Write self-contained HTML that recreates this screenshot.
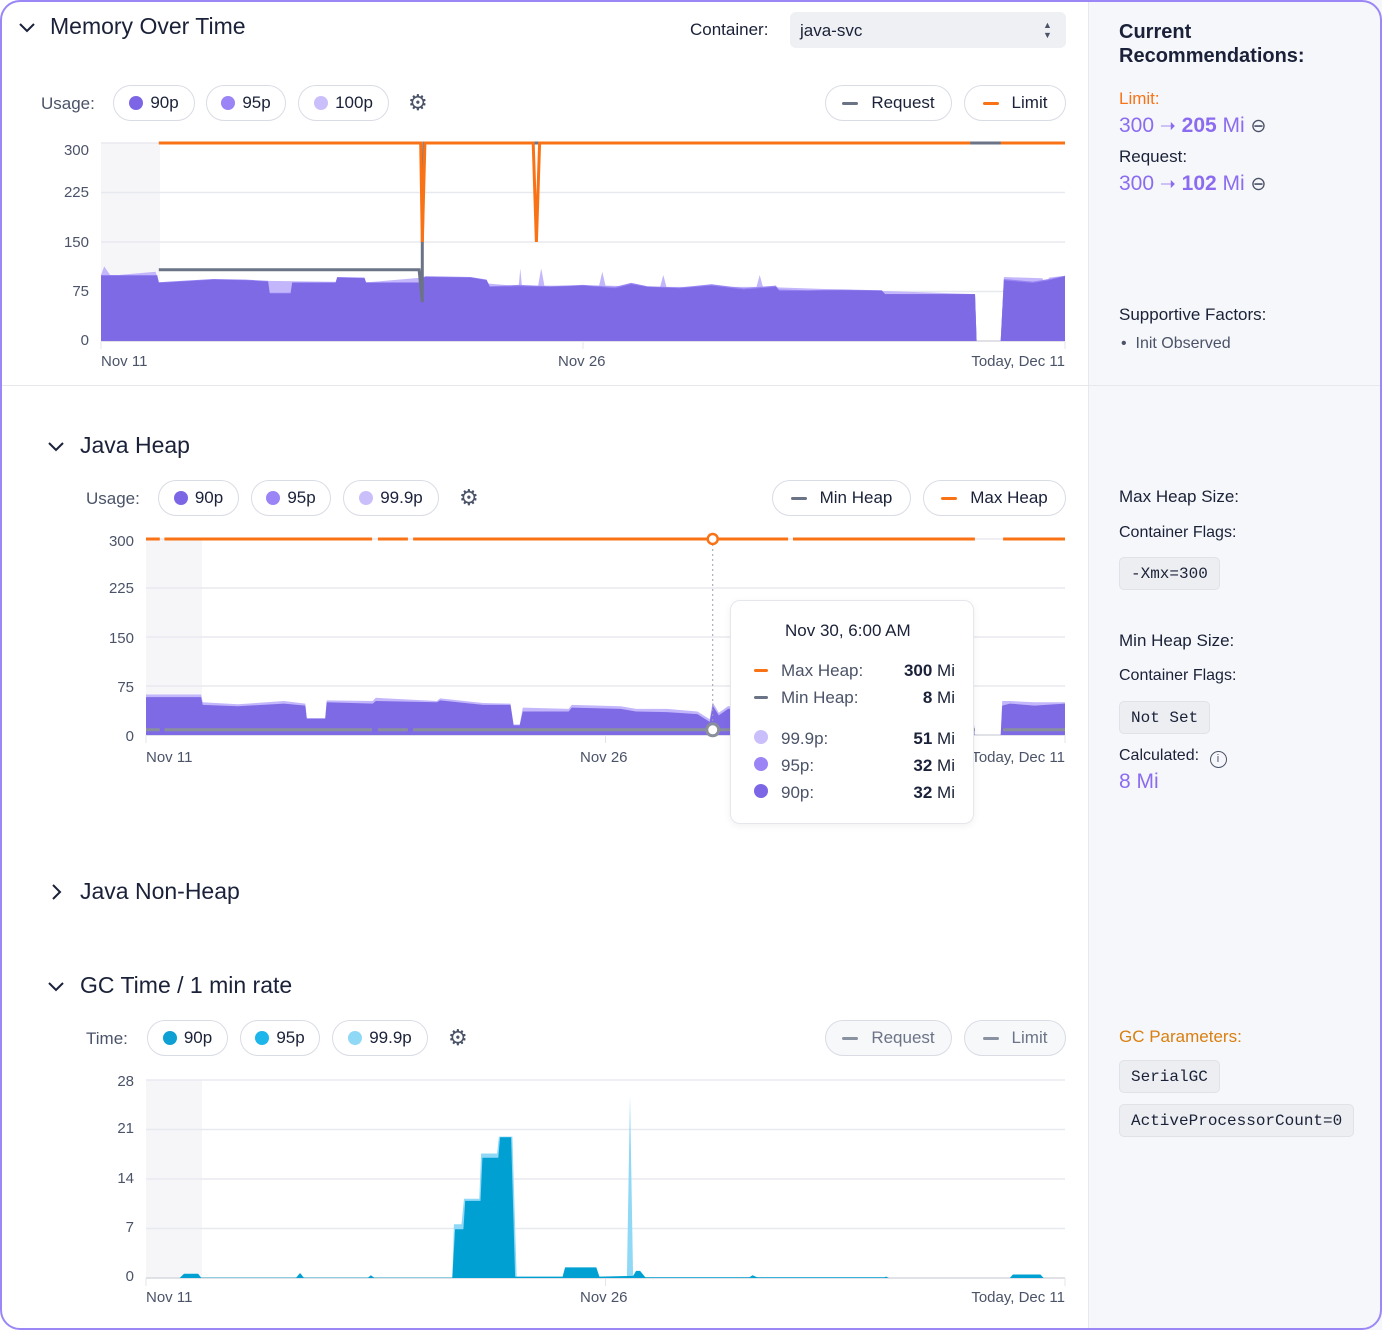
<!DOCTYPE html>
<html><head><meta charset="utf-8">
<style>
*{box-sizing:border-box;margin:0;padding:0}
body{width:1382px;height:1330px;position:relative;background:#fff;font-family:"Liberation Sans",sans-serif;color:#1a2138;overflow:hidden}
.frame{position:absolute;left:0;top:0;width:1382px;height:1330px;border:2px solid #9b87f5;border-radius:20px;pointer-events:none;z-index:5}
.side{position:absolute;left:1088px;top:0;width:294px;height:1330px;background:#f6f7fa;border-left:1px solid #e6e8ee}
.t{position:absolute;white-space:nowrap;line-height:1}
.chip{position:absolute;height:36px;border:1px solid #d9dce4;border-radius:18px;background:#fff;display:flex;align-items:center;justify-content:center;font-size:17px;color:#1a2138;gap:7px}
.dot{width:14px;height:14px;border-radius:50%;display:inline-block}
.dash{width:16px;height:3px;border-radius:2px;display:inline-block;margin-right:6px}
.code{position:absolute;height:33px;background:#eceef1;border:1px solid #dfe2e7;border-radius:5px;font-family:"Liberation Mono",monospace;font-size:16px;display:flex;align-items:center;padding:0 11px;color:#1a2138}
.ylab{position:absolute;font-size:15px;color:#4b5368;text-align:right;width:40px;line-height:1}
.xlab{position:absolute;font-size:15px;color:#4b5368;line-height:1;white-space:nowrap}
.xr{position:absolute;font-size:15px;color:#4b5368;line-height:1;white-space:nowrap;right:317px}
svg{position:absolute;left:0;top:0}
</style></head><body>
<div class="side"></div>
<div style="position:absolute;left:0;top:385px;width:1382px;height:1px;background:#e6e8ee"></div>

<svg id="chart" width="1382" height="1330"></svg>

<!-- Memory header -->
<svg width="20" height="14" style="left:17px;top:21px"><path d="M3 3 L10 10 L17 3" fill="none" stroke="#1a2138" stroke-width="2"/></svg>
<div class="t" style="left:50px;top:15px;font-size:23px;font-weight:500">Memory Over Time</div>
<div class="t" style="left:690px;top:21px;font-size:17px">Container:</div>
<div style="position:absolute;left:790px;top:12px;width:276px;height:36px;background:#eef0f3;border-radius:6px">
 <div class="t" style="left:10px;top:10px;font-size:17px">java-svc</div>
 <div class="t" style="left:253px;top:8px;font-size:9px;color:#4b5368;line-height:10px">▲<br>▼</div>
</div>
<div class="t" style="left:41px;top:95px;font-size:17px;color:#4b5368">Usage:</div>
<div class="chip" style="left:113px;top:85px;width:82px"><span class="dot" style="background:#7c66e5"></span>90p</div>
<div class="chip" style="left:206px;top:85px;width:80px"><span class="dot" style="background:#9a84f6"></span>95p</div>
<div class="chip" style="left:298px;top:85px;width:91px"><span class="dot" style="background:#cbbffb"></span>100p</div>
<div class="t" style="left:408px;top:92px;font-size:22px;color:#4b5368">⚙</div>
<div class="chip" style="left:825px;top:85px;width:127px"><span class="dash" style="background:#6b7386"></span>Request</div>
<div class="chip" style="left:964px;top:85px;width:102px"><span class="dash" style="background:#f97316"></span>Limit</div>
<div class="ylab" style="left:49px;top:143px">300</div>
<div class="ylab" style="left:49px;top:185px">225</div>
<div class="ylab" style="left:49px;top:235px">150</div>
<div class="ylab" style="left:49px;top:284px">75</div>
<div class="ylab" style="left:49px;top:333px">0</div>
<div class="xlab" style="left:101px;top:354px">Nov 11</div>
<div class="xlab" style="left:558px;top:354px">Nov 26</div>
<div class="xr" style="top:354px">Today, Dec 11</div>

<!-- Java Heap -->
<svg width="20" height="14" style="left:46px;top:440px"><path d="M3 3 L10 10 L17 3" fill="none" stroke="#1a2138" stroke-width="2"/></svg>
<div class="t" style="left:80px;top:434px;font-size:23px;font-weight:500">Java Heap</div>
<div class="t" style="left:86px;top:490px;font-size:17px;color:#4b5368">Usage:</div>
<div class="chip" style="left:158px;top:480px;width:81px"><span class="dot" style="background:#7c66e5"></span>90p</div>
<div class="chip" style="left:251px;top:480px;width:80px"><span class="dot" style="background:#9a84f6"></span>95p</div>
<div class="chip" style="left:343px;top:480px;width:96px"><span class="dot" style="background:#cbbffb"></span>99.9p</div>
<div class="t" style="left:459px;top:487px;font-size:22px;color:#4b5368">⚙</div>
<div class="chip" style="left:772px;top:480px;width:139px"><span class="dash" style="background:#6b7386"></span>Min Heap</div>
<div class="chip" style="left:923px;top:480px;width:143px"><span class="dash" style="background:#f97316"></span>Max Heap</div>
<div class="ylab" style="left:94px;top:534px">300</div>
<div class="ylab" style="left:94px;top:581px">225</div>
<div class="ylab" style="left:94px;top:631px">150</div>
<div class="ylab" style="left:94px;top:680px">75</div>
<div class="ylab" style="left:94px;top:729px">0</div>
<div class="xlab" style="left:146px;top:750px">Nov 11</div>
<div class="xlab" style="left:580px;top:750px">Nov 26</div>
<div class="xr" style="top:750px">Today, Dec 11</div>

<!-- Tooltip -->
<div style="position:absolute;left:730px;top:600px;width:244px;height:224px;background:#fff;border:1px solid #e5e7eb;border-radius:10px;box-shadow:0 2px 8px rgba(0,0,0,0.06);z-index:3">
 <div class="t" style="left:54px;top:21px;font-size:17px;font-weight:500">Nov 30, 6:00 AM</div>
 <span class="dash" style="position:absolute;left:23px;top:68px;width:14px;background:#f97316"></span>
 <div class="t" style="left:50px;top:61px;font-size:17px;color:#4b5368">Max Heap:</div>
 <div class="t" style="right:18px;top:61px;font-size:17px"><b>300</b> Mi</div>
 <span class="dash" style="position:absolute;left:23px;top:95px;width:14px;background:#6b7386"></span>
 <div class="t" style="left:50px;top:88px;font-size:17px;color:#4b5368">Min Heap:</div>
 <div class="t" style="right:18px;top:88px;font-size:17px"><b>8</b> Mi</div>
 <span class="dot" style="position:absolute;left:23px;top:129px;background:#cbbffb"></span>
 <div class="t" style="left:50px;top:129px;font-size:17px;color:#4b5368">99.9p:</div>
 <div class="t" style="right:18px;top:129px;font-size:17px"><b>51</b> Mi</div>
 <span class="dot" style="position:absolute;left:23px;top:156px;background:#9a84f6"></span>
 <div class="t" style="left:50px;top:156px;font-size:17px;color:#4b5368">95p:</div>
 <div class="t" style="right:18px;top:156px;font-size:17px"><b>32</b> Mi</div>
 <span class="dot" style="position:absolute;left:23px;top:183px;background:#7c66e5"></span>
 <div class="t" style="left:50px;top:183px;font-size:17px;color:#4b5368">90p:</div>
 <div class="t" style="right:18px;top:183px;font-size:17px"><b>32</b> Mi</div>
</div>

<!-- Non-heap -->
<svg width="14" height="20" style="left:50px;top:882px"><path d="M3 3 L10 10 L3 17" fill="none" stroke="#1a2138" stroke-width="2"/></svg>
<div class="t" style="left:80px;top:880px;font-size:23px;font-weight:500">Java Non-Heap</div>

<!-- GC -->
<svg width="20" height="14" style="left:46px;top:980px"><path d="M3 3 L10 10 L17 3" fill="none" stroke="#1a2138" stroke-width="2"/></svg>
<div class="t" style="left:80px;top:974px;font-size:23px;font-weight:500">GC Time / 1 min rate</div>
<div class="t" style="left:86px;top:1030px;font-size:17px;color:#4b5368">Time:</div>
<div class="chip" style="left:147px;top:1020px;width:81px"><span class="dot" style="background:#0ea0d2"></span>90p</div>
<div class="chip" style="left:240px;top:1020px;width:80px"><span class="dot" style="background:#1cb6ea"></span>95p</div>
<div class="chip" style="left:332px;top:1020px;width:96px"><span class="dot" style="background:#8fd8f6"></span>99.9p</div>
<div class="t" style="left:448px;top:1027px;font-size:22px;color:#4b5368">⚙</div>
<div class="chip" style="left:825px;top:1020px;width:127px;background:#f7f8fa;color:#6b7386"><span class="dash" style="background:#8a91a0"></span>Request</div>
<div class="chip" style="left:964px;top:1020px;width:102px;background:#f7f8fa;color:#6b7386"><span class="dash" style="background:#8a91a0"></span>Limit</div>
<div class="ylab" style="left:94px;top:1074px">28</div>
<div class="ylab" style="left:94px;top:1121px">21</div>
<div class="ylab" style="left:94px;top:1171px">14</div>
<div class="ylab" style="left:94px;top:1220px">7</div>
<div class="ylab" style="left:94px;top:1269px">0</div>
<div class="xlab" style="left:146px;top:1290px">Nov 11</div>
<div class="xlab" style="left:580px;top:1290px">Nov 26</div>
<div class="xr" style="top:1290px">Today, Dec 11</div>

<!-- Side panel text -->
<div class="t" style="left:1119px;top:20px;font-size:20px;font-weight:600;line-height:24px">Current<br>Recommendations:</div>
<div class="t" style="left:1119px;top:90px;font-size:17px;color:#f97316;font-weight:500">Limit:</div>
<div class="t" style="left:1119px;top:115px;font-size:21px;color:#8b6cf0">300 <span style="font-size:19px">➝</span> <b>205</b> Mi <span style="color:#4b5368;font-size:19px">⊖</span></div>
<div class="t" style="left:1119px;top:148px;font-size:17px;font-weight:500">Request:</div>
<div class="t" style="left:1119px;top:173px;font-size:21px;color:#8b6cf0">300 <span style="font-size:19px">➝</span> <b>102</b> Mi <span style="color:#4b5368;font-size:19px">⊖</span></div>
<div class="t" style="left:1119px;top:306px;font-size:17px;font-weight:500">Supportive Factors:</div>
<div class="t" style="left:1121px;top:336px;font-size:16px;color:#4b5368">•&nbsp;&nbsp;Init Observed</div>
<div class="t" style="left:1119px;top:488px;font-size:17px;font-weight:500">Max Heap Size:</div>
<div class="t" style="left:1119px;top:525px;font-size:16px;font-weight:500">Container Flags:</div>
<div class="code" style="left:1119px;top:557px">-Xmx=300</div>
<div class="t" style="left:1119px;top:632px;font-size:17px;font-weight:500">Min Heap Size:</div>
<div class="t" style="left:1119px;top:668px;font-size:16px;font-weight:500">Container Flags:</div>
<div class="code" style="left:1119px;top:701px">Not Set</div>
<div class="t" style="left:1119px;top:748px;font-size:16px;font-weight:500">Calculated: <span style="display:inline-block;width:17px;height:17px;border:1.5px solid #4b5368;border-radius:50%;font-size:11px;text-align:center;line-height:14px;color:#4b5368;margin-left:6px;vertical-align:-2px">i</span></div>
<div class="t" style="left:1119px;top:771px;font-size:21px;color:#8b6cf0">8 Mi</div>
<div class="t" style="left:1119px;top:1028px;font-size:17px;font-weight:500;color:#d97f0f">GC Parameters:</div>
<div class="code" style="left:1119px;top:1060px">SerialGC</div>
<div class="code" style="left:1119px;top:1104px">ActiveProcessorCount=0</div>

<div class="frame"></div>

<script>
// ---- Memory chart data (days since Nov 11, Mi) ----
const memTimes = [0,1.75,1.8,2.5,3.5,4.5,5.2,5.25,5.9,5.95,7.3,7.35,8.2,8.25,9.9,10.0,10.1,11.5,12.0,12.1,13.0,14.0,15.0,16.0,16.5,17.0,18.0,19.0,20.0,21.0,21.1,22,23,24.3,24.4,27.2,27.25,28.0,28.1,29,29.5,30];
const mem90 = [99,99,88,90,93,92,90,72,72,88,88,96,95,88,88,95,97,96,92,82,83,82,84,80,86,82,80,84,78,82,76,76,77,76,71,71,0,0,92,88,92,98];
const mem95 = [100,100,89,91,94,93,91,73,73,89,89,97,96,89,89,96,98,97,93,83,85,83,85,82,88,83,81,86,80,84,78,77,78,77,71,71,0,0,94,90,94,99];
const mem100Times = [0,0.1,0.3,1.7,1.8,5.2,8.3,10.0,13.0,13.05,13.1,13.6,13.7,13.8,15.5,15.6,15.7,17.4,17.5,17.6,20.4,20.5,20.6,27.2,27.25,28.0,28.1,29.3,29.4,29.5,30];
const mem100 = [100,113,99,105,89,91,89,96,83,110,84,83,110,84,84,105,84,82,100,82,82,100,82,71,0,0,97,95,80,96,99];
const memReqTimes = [1.8,9.9,10.0,10.0,10.05,30];
const memReq = [108,108,59,150,300,300];
const memLimTimes = [1.8,9.95,10.0,10.08,13.45,13.55,13.65,27.05,27.06,28.0,30];
const memLim = [300,300,150,300,300,150,300,300,null,300,300];
const memYTicks = [0,75,150,225,300];
// ---- Heap chart data ----
const heapTimes = [0,1.8,1.85,3,4.5,5.2,5.25,5.85,5.9,7.4,7.5,9.5,9.6,11.0,11.9,12.0,12.2,12.3,13.8,13.9,15.5,16.0,17.0,18.0,18.4,18.5,18.7,19,20,22,25,27.0,27.05,27.9,27.95,28.2,29,30];
const heap90 = [58,58,46,44,48,45,25,25,50,48,52,50,53,46,46,15,15,36,36,42,40,36,35,32,20,45,30,40,40,40,40,40,0,0,45,48,45,48];
const heap999 = [62,62,50,47,52,48,26,26,53,52,57,52,56,49,48,16,16,42,40,46,44,40,40,36,24,50,34,44,43,43,43,43,0,0,52,52,50,50];
const heapMaxTimes = [0,0.45,0.46,0.6,7.38,7.39,7.57,8.55,8.56,8.72,20.96,20.97,21.12,27.06,27.07,27.98,30];
const heapMax = [300,300,null,300,300,null,300,300,null,300,300,null,300,300,null,300,300];
const heapMin = [8,8,null,8,8,null,8,8,null,8,8,null,8,8,null,8,8];
const heapYTicks = [0,75,150,225,300];
const hoverDay = 18.5;
// ---- GC chart data ----
const gcTimes = [0,1.1,1.24,1.7,1.8,4.9,5.03,5.15,7.25,7.34,7.45,10.0,10.09,10.36,10.42,10.92,10.98,11.5,11.56,11.92,12.05,13.6,13.68,14.7,14.8,15.9,16.0,16.13,16.3,19.7,19.8,19.95,24.1,24.16,24.25,28.2,28.3,29.2,29.3,30];
const gc90 = [0,0,0.6,0.6,0.05,0.05,0.7,0.05,0.05,0.4,0.05,0.05,6.9,6.9,10.9,10.9,17,17,19.9,19.9,0.2,0.2,1.5,1.5,0.2,0.3,1.0,1.0,0.1,0.1,0.4,0.1,0.1,0.2,0,0,0.5,0.5,0,0];
const gc999Times = [0,10.0,10.05,10.3,10.38,10.88,10.94,11.46,11.52,11.96,12.1,15.7,15.8,15.9,30];
const gc999 = [0,0,7.6,7.6,11.2,11.2,17.6,17.6,20,20,0,0,25.8,0,0];
const gcYTicks = [0,7,14,21,28];

const NS = 'http://www.w3.org/2000/svg';
const svg = document.getElementById('chart');
function el(tag, attrs){const e=document.createElementNS(NS,tag);for(const k in attrs)e.setAttribute(k,attrs[k]);svg.appendChild(e);return e;}
function scale(d0,d1,r0,r1){return v=>r0+(v-d0)/(d1-d0)*(r1-r0);}
function areaPath(ts,vs,sx,sy){let d='M'+sx(ts[0])+' '+sy(0);for(let i=0;i<ts.length;i++)d+=' L'+sx(ts[i]).toFixed(1)+' '+sy(vs[i]).toFixed(1);d+=' L'+sx(ts[ts.length-1])+' '+sy(0)+'Z';return d;}
function linePath(ts,vs,sx,sy){let d='',pen=false;for(let i=0;i<ts.length;i++){if(vs[i]===null){pen=false;continue;}d+=(pen?' L':' M')+sx(ts[i]).toFixed(1)+' '+sy(vs[i]).toFixed(1);pen=true;}return d;}
function frame(x0,x1,sy,ticks,shadeEnd,name){
  const r=el('rect',{x:x0,y:sy(ticks[ticks.length-1]),width:shadeEnd-x0,height:sy(0)-sy(ticks[ticks.length-1]),fill:'#f6f6f8'});
  
  
  ticks.forEach(t=>{const g=el('line',{x1:x0,x2:x1,y1:sy(t),y2:sy(t),stroke:t===0?'#d6d8e0':'#e8e9ef','stroke-width':1.5});
    
    });
  [x0,(x0+x1)/2,x1].forEach(x=>{const k=el('line',{x1:x,x2:x,y1:sy(0),y2:sy(0)+8,stroke:'#e2e4ea','stroke-width':1});
    
    });
}
// Memory chart
(function(){
  const sx=scale(0,30,101,1065), sy=scale(0,300,341,143);
  frame(101,1065,sy,memYTicks,160,'memory');
  const a1=el('path',{d:areaPath(mem100Times,mem100,sx,sy),fill:'#c3b6fb'});
  
  
  const a2=el('path',{d:areaPath(memTimes,mem95,sx,sy),fill:'#9a86f3'});
  
  
  const a3=el('path',{d:areaPath(memTimes,mem90,sx,sy),fill:'#7f6ae6'});
  
  
  const r=el('path',{d:linePath(memReqTimes,memReq,sx,sy),fill:'none',stroke:'#6b7386','stroke-width':3});
  
  
  const l=el('path',{d:linePath(memLimTimes,memLim,sx,sy),fill:'none',stroke:'#f97316','stroke-width':3});
  
  
})();
// Heap chart
(function(){
  const sx=scale(0,30,146,1065), sy=scale(0,300,735,539);
  frame(146,1065,sy,heapYTicks,202,'heap');
  const a1=el('path',{d:areaPath(heapTimes,heap999,sx,sy),fill:'#c3b6fb'});
  
  
  const a3=el('path',{d:areaPath(heapTimes,heap90,sx,sy),fill:'#7f6ae6'});
  
  
  const mn=el('path',{d:linePath(heapMaxTimes,heapMin,sx,sy),fill:'none',stroke:'#8a8f9c','stroke-width':3});
  
  
  const mx=el('path',{d:linePath(heapMaxTimes,heapMax,sx,sy),fill:'none',stroke:'#f97316','stroke-width':3});
  
  
  const hx=sx(hoverDay);
  const v=el('line',{x1:hx,x2:hx,y1:sy(300),y2:sy(8),stroke:'#9aa0ad','stroke-width':1,'stroke-dasharray':'2 3'});
  
  
  const c1=el('circle',{cx:hx,cy:sy(300),r:5,fill:'#fff',stroke:'#f97316','stroke-width':2.5});
  
  
  const c2=el('circle',{cx:hx,cy:sy(8),r:6,fill:'#fff',stroke:'#8a8f9c','stroke-width':3});
  
  
})();
// GC chart
(function(){
  const sx=scale(0,30,146,1065), sy=scale(0,28,1278,1080);
  frame(146,1065,sy,gcYTicks,202,'gc');
  const a1=el('path',{d:areaPath(gc999Times,gc999,sx,sy),fill:'#8fd8f6'});
  
  
  const a3=el('path',{d:areaPath(gcTimes,gc90,sx,sy),fill:'#00a0d2'});
  
  
})();
</script>
</body></html>
